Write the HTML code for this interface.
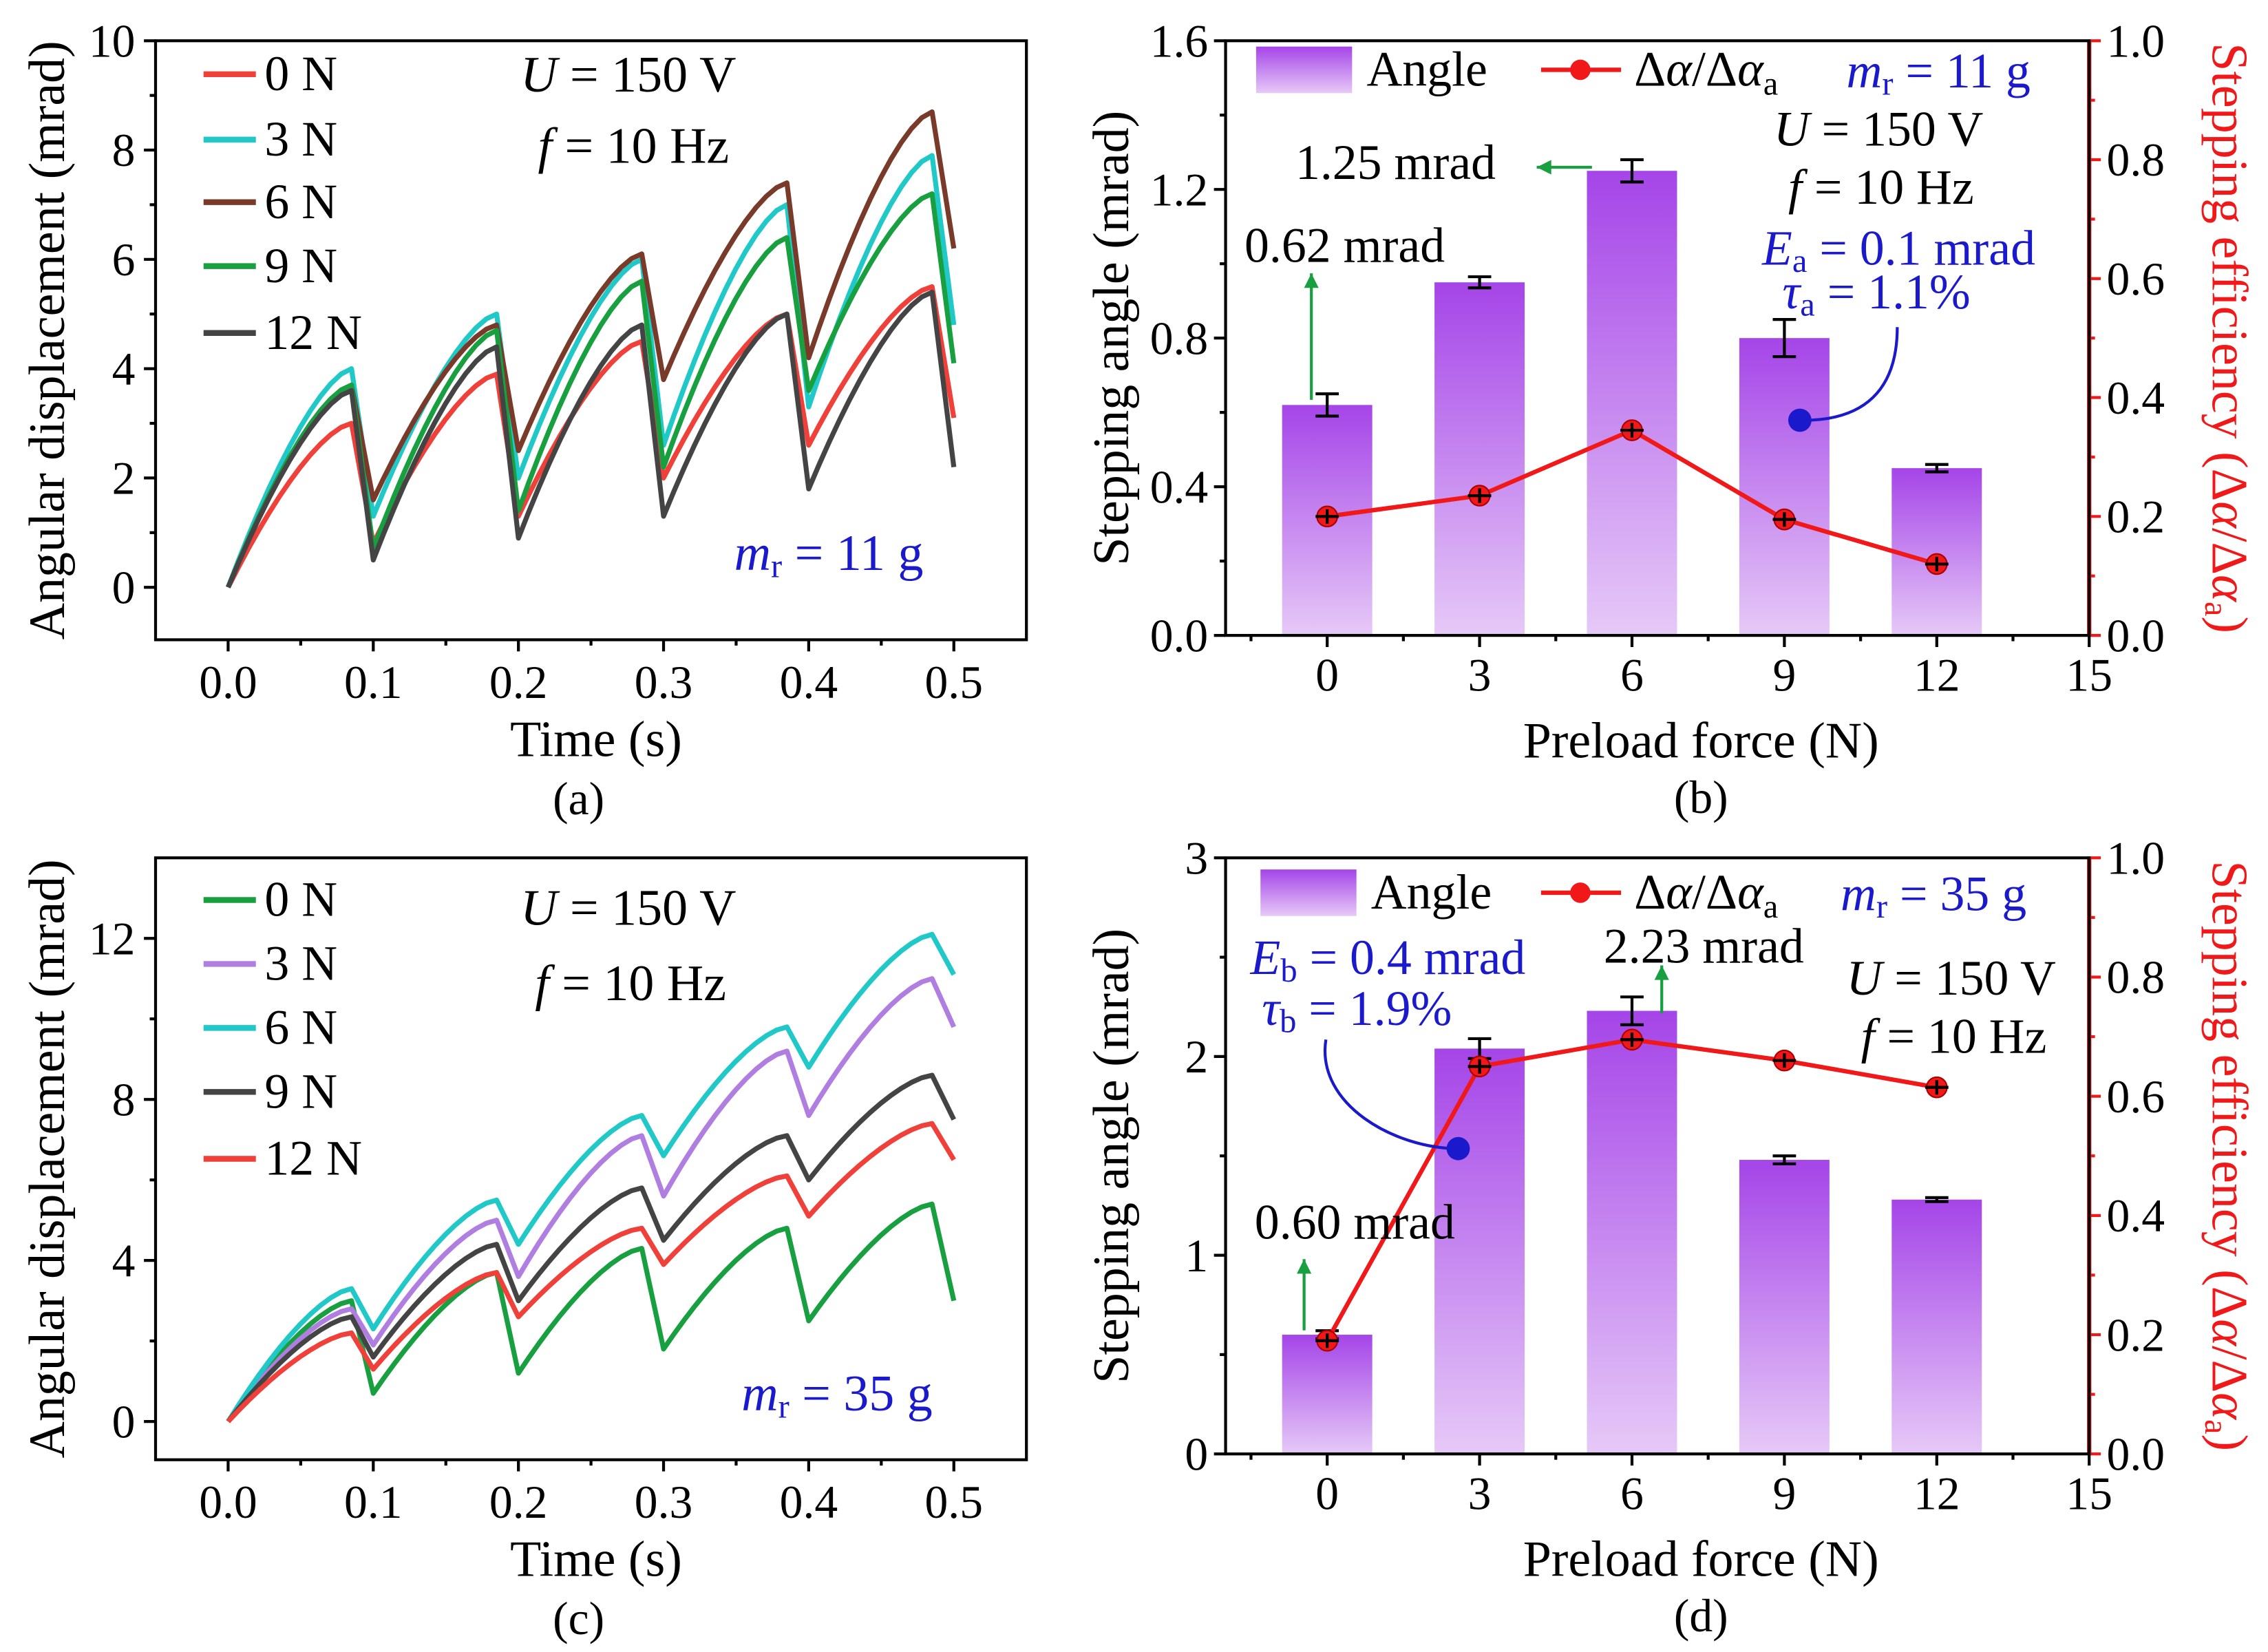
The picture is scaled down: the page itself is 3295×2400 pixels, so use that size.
<!DOCTYPE html>
<html><head><meta charset="utf-8"><style>
html,body{margin:0;padding:0;background:#fff}
svg{display:block}
text{font-family:"Liberation Serif",serif}
</style></head><body>
<svg id="fig" width="3295" height="2400" viewBox="0 0 1560 1136.2" xmlns="http://www.w3.org/2000/svg">
<defs>
<linearGradient id="barg" x1="0" y1="0" x2="0" y2="1">
<stop offset="0" stop-color="#a545e8"/><stop offset="1" stop-color="#e6c9f7"/>
</linearGradient>
</defs>
<g id="root"></g>
</svg>
<script>
// ---------- data ----------
const timeCycles = [0, 0.1, 0.2, 0.3, 0.4];
const aLabels = ["0 N","3 N","6 N","9 N","12 N"];
const aColors = ["#f0403a","#20c8c8","#7a3a2a","#18a040","#444444"];
const aPeaks0 = [3.0,3.9,4.5,5.0,5.5];
const aTroughs0 = [0.8,1.3,2.0,2.6,3.1];
const aPeaks3 = [4.0,5.0,6.0,7.0,7.9];
const aTroughs3 = [1.3,2.0,2.6,3.3,4.8];
const aPeaks6 = [3.7,4.8,6.1,7.4,8.7];
const aTroughs6 = [1.6,2.5,3.8,4.2,6.2];
const aPeaks9 = [3.7,4.7,5.6,6.4,7.2];
const aTroughs9 = [0.7,1.4,2.2,3.6,4.1];
const aPeaks12 = [3.6,4.4,4.8,5.0,5.4];
const aTroughs12 = [0.5,0.9,1.3,1.8,2.2];

const cLabels = ["0 N","3 N","6 N","9 N","12 N"];
const cColors = ["#18a040","#b07ee0","#20c8c8","#444444","#f0403a"];
const cPeaks0 = [3.0,3.7,4.3,4.8,5.4];
const cTroughs0 = [0.7,1.2,1.8,2.5,3.0];
const cPeaks3 = [2.8,5.0,7.1,9.2,11.0];
const cTroughs3 = [1.9,3.6,5.6,7.6,9.8];
const cPeaks6 = [3.3,5.5,7.6,9.8,12.1];
const cTroughs6 = [2.3,4.4,6.6,8.8,11.1];
const cPeaks9 = [2.6,4.4,5.8,7.1,8.6];
const cTroughs9 = [1.6,3.0,4.5,6.0,7.5];
const cPeaks12 = [2.2,3.7,4.8,6.1,7.4];
const cTroughs12 = [1.3,2.6,3.9,5.1,6.5];

const forces = [0,3,6,9,12];
const bAngle = [0.62,0.95,1.25,0.80,0.45];
const bAngleErr = [0.03,0.015,0.03,0.05,0.01];
const bEff = [0.20,0.235,0.345,0.195,0.12];
const dAngle = [0.60,2.04,2.23,1.48,1.28];
const dAngleErr = [0.02,0.05,0.07,0.02,0.01];
const dEff = [0.19,0.65,0.695,0.66,0.615];

const aYTicks = [0,2,4,6,8,10];
const cYTicks = [0,4,8,12];
const tTicks = ["0.0","0.1","0.2","0.3","0.4","0.5"];
const bYTicks = ["0.0","0.4","0.8","1.2","1.6"];
const dYTicks = ["0","1","2","3"];
const effTicks = ["0.0","0.2","0.4","0.6","0.8","1.0"];
const fTicks = [0,3,6,9,12,15];

// ---------- helpers ----------
const NS="http://www.w3.org/2000/svg";
const root=document.getElementById('root');
function el(tag,attrs,parent){const e=document.createElementNS(NS,tag);for(const k in attrs)e.setAttribute(k,attrs[k]);(parent||root).appendChild(e);return e;}
function txt(x,y,s,size,attrs,parent){const t=el('text',Object.assign({x:x,y:y,'font-size':size},attrs||{}),parent);t.innerHTML=s;return t;}
function lin(d0,d1,r0,r1){return v=>r0+(v-d0)*(r1-r0)/(d1-d0);}

function frame(L,T,R,B,name){
  const r=el('rect',{x:L,y:T,width:R-L,height:B-T,fill:'none',stroke:'#000','stroke-width':2});
  
  
}

// ---------- panel builders ----------
function timePanel(T,B,ymin,ymax,yTicks,series,labels,colors,legY,texts,panelName,letter){
  const L=107,R=706;
  const X=lin(-0.05,0.55,L,R), Y=lin(ymin,ymax,B,T);
  const g=el('g',{});
  
  
  series.forEach((s,i)=>{
    const pk=s[0],tr=s[1];
    let d='M'+X(0)+','+Y(0);
    let start=0;
    for(let k=0;k<timeCycles.length;k++){
      const t0=timeCycles[k], tp=t0+0.085, tt=t0+0.1;
      const steps=12;
      for(let j=1;j<=steps;j++){
        const f=j/steps; const shape=1-Math.pow(1-f,1.5);
        d+=' L'+X(t0+(tp-t0)*f).toFixed(2)+','+Y(start+(pk[k]-start)*shape).toFixed(2);
      }
      d+=' L'+X(tt).toFixed(2)+','+Y(tr[k]).toFixed(2);
      start=tr[k];
    }
    const p=el('path',{d:d,fill:'none',stroke:colors[i],'stroke-width':3.4,'stroke-linejoin':'round'},g);
    
    
    const ly=legY[i];
    const ll=el('line',{x1:140,y1:ly-9,x2:176,y2:ly-9,stroke:colors[i],'stroke-width':4},g);
    
    
    const lt=txt(182,ly+2,labels[i],34,{},g);
    
    
  });
  frame(L,T,R,B,panelName+'-frame');
  yTicks.forEach(v=>{
    el('line',{x1:L-8,y1:Y(v),x2:L,y2:Y(v),stroke:'#000','stroke-width':2},g);
    const t=txt(L-14,Y(v)+11,String(v),32,{'text-anchor':'end'},g);
    
    
  });
  for(let i=0;i<yTicks.length-1;i++){const m=(yTicks[i]+yTicks[i+1])/2;el('line',{x1:L-4,y1:Y(m),x2:L,y2:Y(m),stroke:'#000','stroke-width':2},g);}
  tTicks.forEach(s=>{
    const v=parseFloat(s);
    el('line',{x1:X(v),y1:B,x2:X(v),y2:B+8,stroke:'#000','stroke-width':2},g);
    if(v<0.5)el('line',{x1:X(v+0.05),y1:B,x2:X(v+0.05),y2:B+4,stroke:'#000','stroke-width':2},g);
    const t=txt(X(v),B+40,s,32,{'text-anchor':'middle'},g);
    
    
  });
  const yt=txt(0,0,'Angular displacement (mrad)',35,{'text-anchor':'middle',transform:'translate(44,'+((T+B)/2)+') rotate(-90)'},g);
  
  
  const xt=txt(410,B+80,'Time (s)',35,{'text-anchor':'middle'},g);
  
  
  const pl=txt(398,B+120,'('+letter+')',32,{'text-anchor':'middle'},g);
  
  
  texts.forEach(o=>{const t=txt(o[0],o[1],o[2],35,o[3]||{},g);});
}

function barPanel(T,B,ymax,yTicks,angle,err,eff,panelName,letter,annos){
  const L=843,R=1437;
  const X=lin(-2,15,L,R), Y=lin(0,ymax,B,T), Y2=lin(0,1,B,T);
  const g=el('g',{});
  
  
  forces.forEach((f,i)=>{
    const b=el('rect',{x:X(f)-31,y:Y(angle[i]),width:62,height:B-Y(angle[i]),fill:'url(#barg)'},g);
    
    
    const e=el('path',{d:'M'+X(f)+','+Y(angle[i]-err[i])+' V'+Y(angle[i]+err[i])+' M'+(X(f)-8)+','+Y(angle[i]-err[i])+' h16 M'+(X(f)-8)+','+Y(angle[i]+err[i])+' h16',stroke:'#000','stroke-width':2,fill:'none'},g);
    
    
  });
  let d='';
  forces.forEach((f,i)=>{d+=(i?' L':'M')+X(f)+','+Y2(eff[i]);});
  const ln=el('path',{d:d,fill:'none',stroke:'#f01818','stroke-width':3},g);
  
  
  forces.forEach((f,i)=>{
    const c=el('circle',{cx:X(f),cy:Y2(eff[i]),r:7,fill:'#f01818',stroke:'#a00','stroke-width':1},g);
    
    
    el('path',{d:'M'+(X(f)-8)+','+Y2(eff[i])+' h16 M'+X(f)+','+(Y2(eff[i])-5)+' v10',stroke:'#000','stroke-width':2},g);
  });
  frame(L,T,R,B,panelName+'-frame');
  el('line',{x1:R,y1:T,x2:R,y2:B,stroke:'#f01818','stroke-width':3},g);
  yTicks.forEach(s=>{
    const v=parseFloat(s);
    el('line',{x1:L-8,y1:Y(v),x2:L,y2:Y(v),stroke:'#000','stroke-width':2},g);
    const t=txt(L-12,Y(v)+11,s,32,{'text-anchor':'end'},g);
    
    
  });
  for(let i=0;i<yTicks.length-1;i++){const m=(parseFloat(yTicks[i])+parseFloat(yTicks[i+1]))/2;el('line',{x1:L-4,y1:Y(m),x2:L,y2:Y(m),stroke:'#000','stroke-width':2},g);}
  effTicks.forEach((s,i)=>{
    const v=parseFloat(s);
    el('line',{x1:R,y1:Y2(v),x2:R+8,y2:Y2(v),stroke:'#f01818','stroke-width':2},g);
    if(i<effTicks.length-1)el('line',{x1:R,y1:Y2(v+0.1),x2:R+4,y2:Y2(v+0.1),stroke:'#f01818','stroke-width':2},g);
    const t=txt(R+12,Y2(v)+11,s,32,{},g);
    
    
  });
  fTicks.forEach((f,i)=>{
    el('line',{x1:X(f),y1:B,x2:X(f),y2:B+8,stroke:'#000','stroke-width':2},g);
    el('line',{x1:X(f-1.5),y1:B,x2:X(f-1.5),y2:B+4,stroke:'#000','stroke-width':2},g);
    const t=txt(X(f),B+38,String(f),32,{'text-anchor':'middle'},g);
    
    
  });
  const yt=txt(0,0,'Stepping angle (mrad)',35,{'text-anchor':'middle',transform:'translate(776,'+((T+B)/2)+') rotate(-90)'},g);
  
  
  const yr=txt(0,0,'Stepping efficiency (Δ<tspan font-style="italic">α</tspan>/Δ<tspan font-style="italic">α</tspan><tspan font-size="23" dy="5">a</tspan><tspan dy="-5">)</tspan>',35,{'text-anchor':'middle',fill:'#f01818',transform:'translate(1522,'+((T+B)/2)+') rotate(90)'},g);
  
  
  const xt=txt(1170,B+84,'Preload force (N)',35,{'text-anchor':'middle'},g);
  
  
  const pl=txt(1170,B+122,'('+letter+')',32,{'text-anchor':'middle'},g);
  
  
  annos(g);
}

function arrow(g,x1,y1,x2,y2,name){
  const a=el('line',{x1:x1,y1:y1,x2:x2,y2:y2,stroke:'#18a040','stroke-width':2},g);
  
  
  const ang=Math.atan2(y2-y1,x2-x1),s=10;
  const p=[[x2,y2],[x2-s*Math.cos(ang)+5*Math.sin(ang),y2-s*Math.sin(ang)-5*Math.cos(ang)],[x2-s*Math.cos(ang)-5*Math.sin(ang),y2-s*Math.sin(ang)+5*Math.cos(ang)]];
  el('polygon',{points:p.map(q=>q.join(',')).join(' '),fill:'#18a040'},g);
}
function legend(g,y,tx){
  const r=el('rect',{x:tx,y:y-16,width:66,height:32,fill:'url(#barg)'},g);
  
  
  const t=txt(tx+76,y+11,'Angle',34,{},g);
  
  
  el('line',{x1:1060,y1:y,x2:1115,y2:y,stroke:'#f01818','stroke-width':3},g);
  const c=el('circle',{cx:1087,cy:y,r:7,fill:'#f01818'},g);
  
  
  const t2=txt(1124,y+11,'Δ<tspan font-style="italic">α</tspan>/Δ<tspan font-style="italic">α</tspan><tspan font-size="23" dy="6">a</tspan>',34,{},g);
  
  
}
function note(g,x,y,s,name,attrs){const t=txt(x,y,s,34,attrs||{},g);return t;}
const MI='<tspan font-style="italic">m</tspan><tspan font-size="23" dy="5">r</tspan><tspan dy="-5"> = ';
const UT='<tspan font-style="italic">U</tspan> = 150 V';
const FT='<tspan font-style="italic">f</tspan> = 10 Hz';

// ---------- draw ----------
timePanel(28,440,-0.96,10,aYTicks,
  [[aPeaks0,aTroughs0],[aPeaks3,aTroughs3],[aPeaks6,aTroughs6],[aPeaks9,aTroughs9],[aPeaks12,aTroughs12]],
  aLabels,aColors,[60,105,148,192,238],
  [[358,63,UT,{},'voltage-note'],[370,112,FT,{},'frequency-note'],[505,392,MI+'11 g</tspan>',{fill:'#1a1acc'},'mass-note']],
  'panel-a','a');
timePanel(590,1004,-0.95,14,cYTicks,
  [[cPeaks0,cTroughs0],[cPeaks3,cTroughs3],[cPeaks6,cTroughs6],[cPeaks9,cTroughs9],[cPeaks12,cTroughs12]],
  cLabels,cColors,[628,672,716,760,806],
  [[358,636,UT,{},'voltage-note'],[368,688,FT,{},'frequency-note'],[510,970,MI+'35 g</tspan>',{fill:'#1a1acc'},'mass-note']],
  'panel-c','c');

barPanel(28,437,1.6,bYTicks,bAngle,bAngleErr,bEff,'panel-b','b',g=>{
  legend(g,48,864);
  note(g,1270,60,MI+'11 g</tspan>','mass-note',{fill:'#1a1acc'});
  note(g,1220,100,UT,'voltage-note');
  note(g,1230,140,FT,'frequency-note');
  note(g,1212,182,'<tspan font-style="italic">E</tspan><tspan font-size="23" dy="5">a</tspan><tspan dy="-5"> = 0.1 mrad</tspan>','error-note',{fill:'#1a1acc'});
  note(g,1226,212,'<tspan font-style="italic">τ</tspan><tspan font-size="23" dy="5">a</tspan><tspan dy="-5"> = 1.1%</tspan>','tau-note',{fill:'#1a1acc'});
  el('path',{d:'M1238,289 C1290,290 1305,260 1305,225',fill:'none',stroke:'#1a1acc','stroke-width':2},g);
  el('circle',{cx:1238,cy:289,r:8,fill:'#1a1acc'},g);
  note(g,856,180,'0.62 mrad','annotation-062');
  arrow(g,902,275,902,188,'arrow-062');
  note(g,891,123,'1.25 mrad','annotation-125');
  arrow(g,1095,115,1057,115,'arrow-125');
});
barPanel(590,1000,3,dYTicks,dAngle,dAngleErr,dEff,'panel-d','d',g=>{
  legend(g,614,867);
  note(g,1266,626,MI+'35 g</tspan>','mass-note',{fill:'#1a1acc'});
  note(g,1270,684,UT,'voltage-note');
  note(g,1280,724,FT,'frequency-note');
  note(g,860,670,'<tspan font-style="italic">E</tspan><tspan font-size="23" dy="5">b</tspan><tspan dy="-5"> = 0.4 mrad</tspan>','error-note',{fill:'#1a1acc'});
  note(g,868,705,'<tspan font-style="italic">τ</tspan><tspan font-size="23" dy="5">b</tspan><tspan dy="-5"> = 1.9%</tspan>','tau-note',{fill:'#1a1acc'});
  el('path',{d:'M912,715 C905,760 960,790 1003,790',fill:'none',stroke:'#1a1acc','stroke-width':2},g);
  el('circle',{cx:1003,cy:790,r:8,fill:'#1a1acc'},g);
  note(g,1103,662,'2.23 mrad','annotation-223');
  arrow(g,1143,697,1143,664,'arrow-223');
  note(g,863,852,'0.60 mrad','annotation-060');
  arrow(g,897,915,897,866,'arrow-060');
});
</script>
</body></html>
